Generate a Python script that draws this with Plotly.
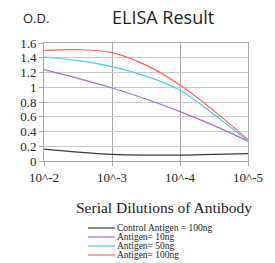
import plotly.graph_objects as go

dilution_exp = [2, 2.5, 3, 3.5, 4, 4.5, 5]
tick_vals = [2, 3, 4, 5]
tick_text = ["10^-2", "10^-3", "10^-4", "10^-5"]

control_100 = [0.16, 0.12, 0.09, 0.08, 0.08, 0.09, 0.10]
antigen_10 = [1.24, 1.12, 0.99, 0.84, 0.67, 0.48, 0.27]
antigen_50 = [1.41, 1.36, 1.28, 1.15, 0.96, 0.63, 0.27]
antigen_100 = [1.50, 1.51, 1.47, 1.30, 1.03, 0.68, 0.29]

series_names = ["Control Antigen = 100ng", "Antigen= 10ng", "Antigen= 50ng", "Antigen= 100ng"]
series_values = [control_100, antigen_10, antigen_50, antigen_100]
colors = ["#3a3a3a", "#a070dc", "#50c8f0", "#ff6464"]

fig = go.Figure()
for name, vals, c in zip(series_names, series_values, colors):
    fig.add_trace(go.Scatter(x=dilution_exp, y=vals, mode="lines", name=name,
                             line=dict(color=c, width=1.2, shape="spline"),
                             showlegend=False))

W, H = 275, 263
ml, mr, mt, mb = 44, 27, 43, 102
fig.update_layout(
    width=W, height=H,
    margin=dict(l=ml, r=mr, t=mt, b=mb),
    paper_bgcolor="white", plot_bgcolor="white",
    xaxis=dict(range=[2, 5], tickvals=tick_vals, ticktext=tick_text,
               showgrid=True, gridcolor="#a8a8a8", gridwidth=1,
               showline=True, linecolor="#a8a8a8", mirror=True,
               ticks="outside", ticklen=4, tickcolor="#a8a8a8",
               tickfont=dict(family="Liberation Serif", size=13, color="#222"),
               zeroline=False, fixedrange=True),
    yaxis=dict(range=[0, 1.6], tickvals=[0, 0.2, 0.4, 0.6, 0.8, 1, 1.2, 1.4, 1.6],
               ticktext=["0", "0.2", "0.4", "0.6", "0.8", "1", "1.2", "1.4", "1.6"],
               showgrid=True, gridcolor="#c8c8c8", gridwidth=1,
               showline=True, linecolor="#a8a8a8", mirror=True,
               ticks="outside", ticklen=4, tickcolor="#a8a8a8",
               tickfont=dict(family="Liberation Serif", size=13, color="#222"),
               zeroline=False, fixedrange=True),
)

def px(x):
    return (x - ml) / (W - ml - mr)

def py(y):
    return (H - mb - y) / (H - mt - mb)

annotations = [
    dict(text="ELISA Result", x=px(163), y=py(17), xref="paper", yref="paper",
         xanchor="center", yanchor="middle",
         showarrow=False, font=dict(family="Open Sans", size=18, color="#222")),
    dict(text="O.D.", x=px(36), y=py(18), xref="paper", yref="paper",
         xanchor="center", yanchor="middle",
         showarrow=False, font=dict(family="Open Sans", size=13, color="#222")),
    dict(text="Serial Dilutions of Antibody", x=px(164), y=py(207), xref="paper", yref="paper",
         xanchor="center", yanchor="middle",
         showarrow=False, font=dict(family="Liberation Serif", size=15.5, color="#222")),
]
shapes = []
leg_y = [228, 237, 246, 255]
for name, c, yy in zip(series_names, colors, leg_y):
    shapes.append(dict(type="line", xref="paper", yref="paper",
                       x0=px(88), x1=px(115), y0=py(yy), y1=py(yy),
                       line=dict(color=c, width=1.2)))
    annotations.append(dict(text=name, x=px(116), y=py(yy), xref="paper", yref="paper",
                            xanchor="left", yanchor="middle", showarrow=False, borderpad=0,
                            font=dict(family="Liberation Serif", size=9.5, color="#222")))
fig.update_layout(annotations=annotations, shapes=shapes)

fig.write_html("out.html")
